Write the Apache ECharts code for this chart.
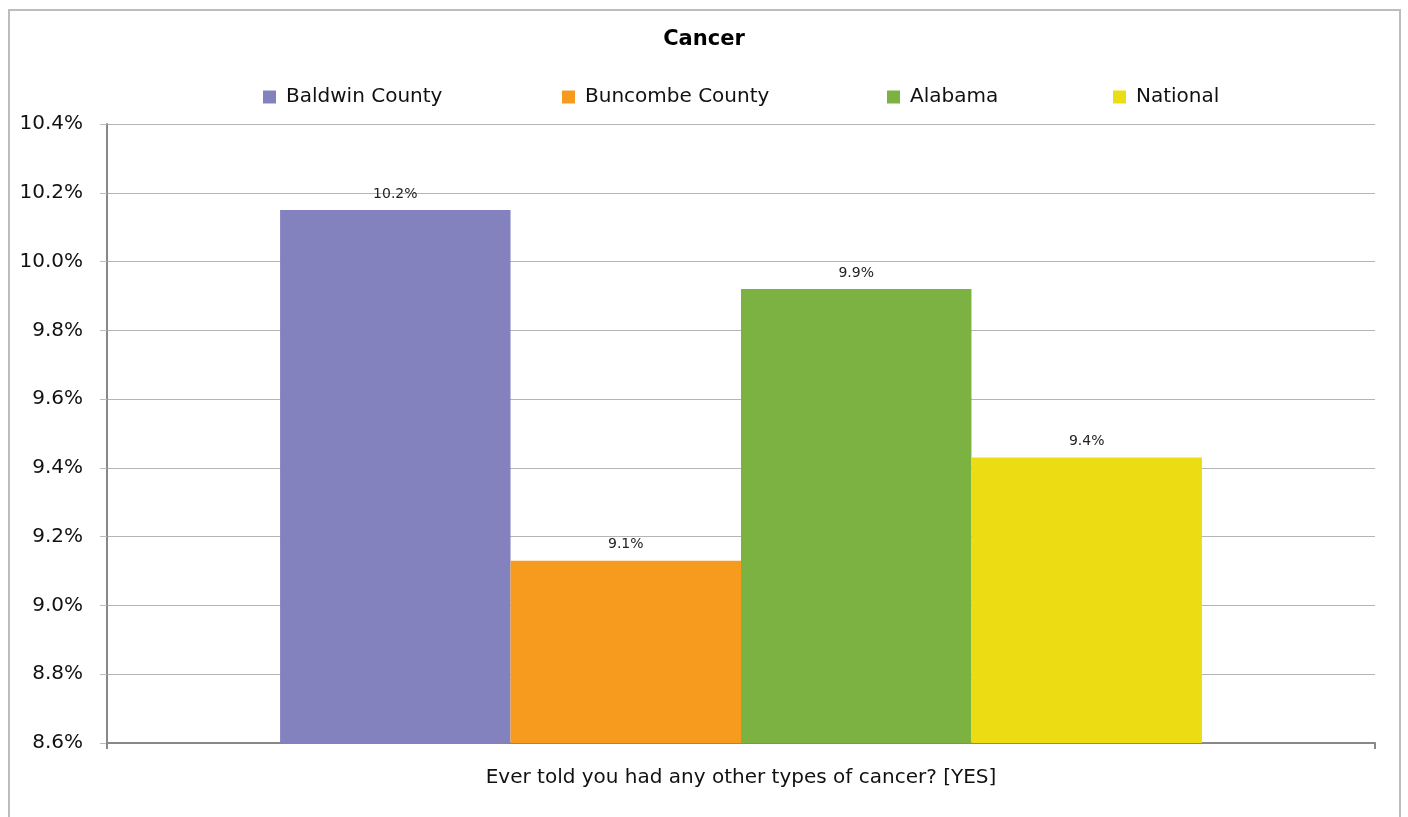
<!DOCTYPE html>
<html>
<head>
<meta charset="utf-8">
<script src="https://cdn.jsdelivr.net/npm/echarts@6/dist/echarts.min.js"></script>
<style>html,body{margin:0;padding:0;background:#fff;}#c{width:1408px;height:817px;}</style>
</head>
<body>
<div id="c"></div>
<script>
const categories = ['Ever told you had any other types of cancer? [YES]'];
const seriesNames = ['Baldwin County', 'Buncombe County', 'Alabama', 'National'];
const baldwin = [10.15];
const buncombe = [9.13];
const alabama = [9.92];
const national = [9.43];
const yTicks = { min: 8.6, max: 10.4, interval: 0.2 };

const colors = ['#8482BE', '#F79B1F', '#7BB241', '#EBDC13'];
const font = 'DejaVu Sans';
const values = [baldwin, buncombe, alabama, national];
const legendLefts = [263, 562, 887, 1113];

const chart = echarts.init(document.getElementById('c'), null, { renderer: 'canvas' });
chart.setOption({
  animation: false,
  backgroundColor: '#fff',
  textStyle: { fontFamily: font },
  title: {
    text: 'Cancer', left: 'center', top: 24,
    textStyle: { fontFamily: font, fontSize: 21, fontWeight: 'bold', color: '#000' }
  },
  legend: seriesNames.map((n, i) => ({
    data: [n], left: legendLefts[i], top: 87, padding: 0,
    itemWidth: 13, itemHeight: 13, itemGap: 8,
    icon: 'rect',
    textStyle: { fontFamily: font, fontSize: 20, color: '#111', padding: [0, 0, 0, 5] }
  })),
  grid: { left: 107, right: 33, top: 124, bottom: 74, containLabel: false },
  xAxis: {
    type: 'category', data: categories,
    axisLine: { lineStyle: { color: '#888', width: 2 } },
    axisTick: { show: true, length: 6, lineStyle: { color: '#888', width: 2 } },
    axisLabel: { fontFamily: font, fontSize: 20, color: '#111', margin: 25 }
  },
  yAxis: {
    type: 'value', min: yTicks.min, max: yTicks.max, interval: yTicks.interval,
    axisLine: { show: true, lineStyle: { color: '#888', width: 2 } },
    axisTick: { show: true, length: 7, lineStyle: { color: '#bbb' } },
    splitLine: { lineStyle: { color: '#b5b5b5', width: 1 } },
    axisLabel: {
      fontFamily: font, fontSize: 20, color: '#111', margin: 24,
      formatter: v => v.toFixed(1) + '%'
    }
  },
  graphic: [{
    type: 'rect', shape: { x: 9, y: 10, width: 1391, height: 820 },
    style: { fill: 'none', stroke: '#bdbdbd', lineWidth: 2 }, silent: true, z: -1
  }],
  series: seriesNames.map((n, i) => ({
    name: n, type: 'bar', data: values[i],
    barGap: '0%', barCategoryGap: '27.3%',
    itemStyle: { color: colors[i] },
    label: {
      show: true, position: 'top', distance: 9,
      fontFamily: font, fontSize: 14, color: '#222',
      formatter: p => p.value.toFixed(1) + '%'
    }
  }))
});
</script>
</body>
</html>
